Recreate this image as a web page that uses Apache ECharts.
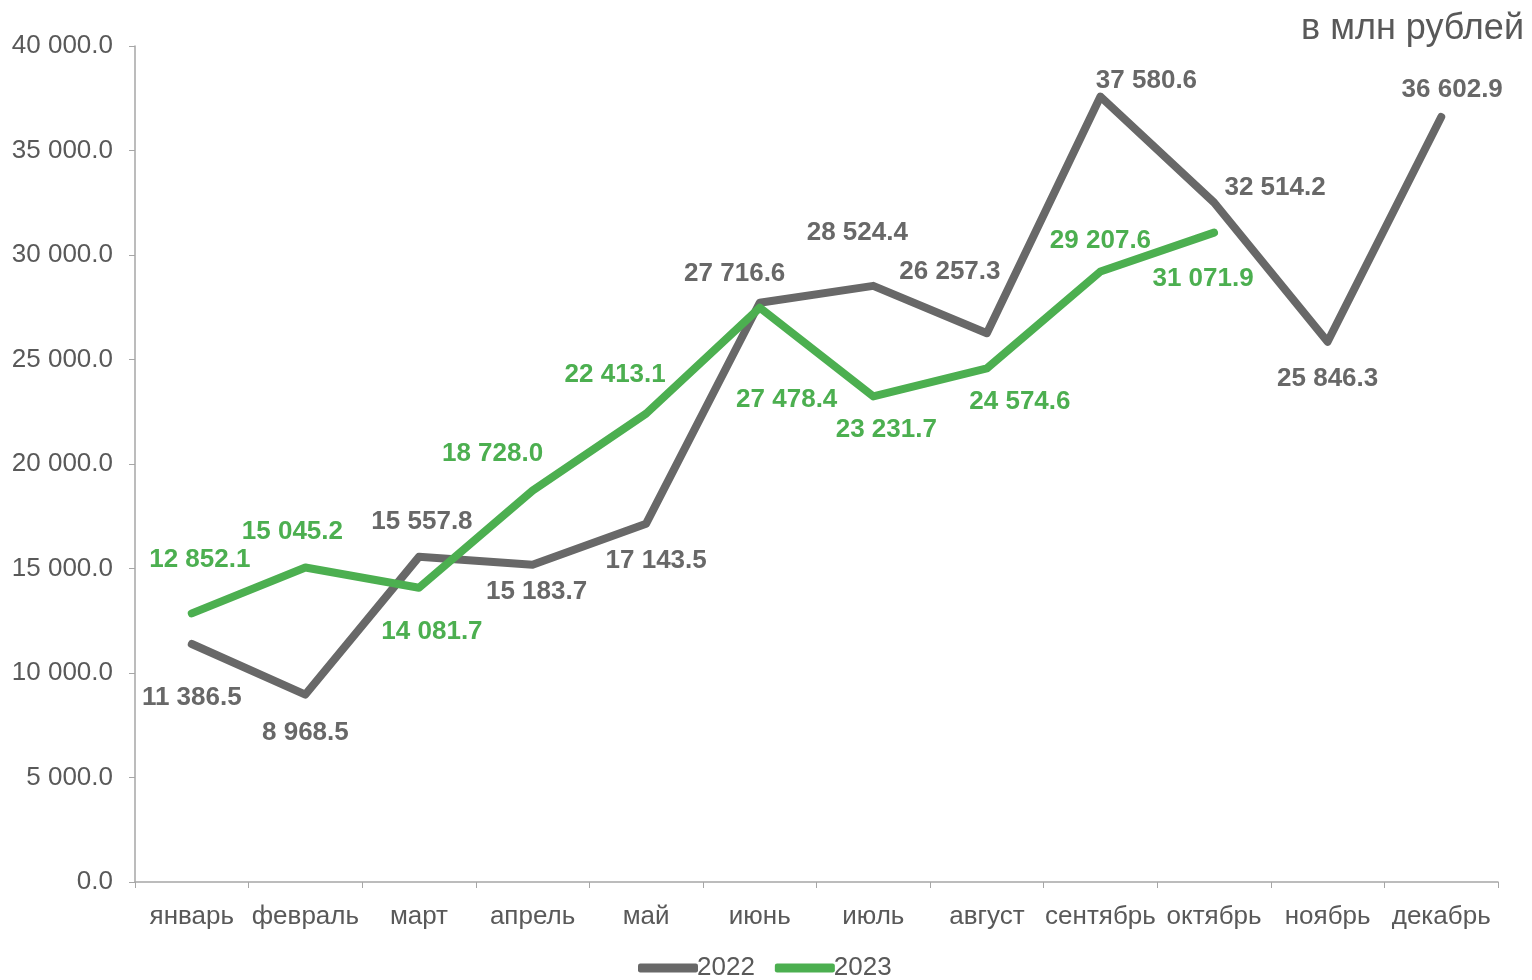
<!DOCTYPE html>
<html>
<head>
<meta charset="utf-8">
<script src="https://cdn.jsdelivr.net/npm/echarts@6/dist/echarts.min.js"></script>
<style>
  html, body { margin: 0; padding: 0; background: #fff; }
  #main { width: 1532px; height: 980px; }
</style>
</head>
<body>
<div id="main"></div>
<script>
var months = ['январь', 'февраль', 'март', 'апрель', 'май', 'июнь', 'июль', 'август', 'сентябрь', 'октябрь', 'ноябрь', 'декабрь'];
var values2022 = [11386.5, 8968.5, 15557.8, 15183.7, 17143.5, 27716.6, 28524.4, 26257.3, 37580.6, 32514.2, 25846.3, 36602.9];
var values2023 = [12852.1, 15045.2, 14081.7, 18728.0, 22413.1, 27478.4, 23231.7, 24574.6, 29207.6, 31071.9];

// label shifts (px) from each point, to place them like the original
var shift2022 = [[0, 54], [0, 38], [3, -35], [4, 27], [10, 37], [-25, -29], [-16, -53], [-37, -61], [46, -16], [61, -15], [0, 37], [11, -27]];
var shift2023 = [[8, -54], [-13, -36], [13, 44], [-40, -37], [-31, -39], [27, 92], [13, 33], [33, 33], [0, -31], [-11, 46]];

var grey = '#686868';
var green = '#4caf50';
var textColor = '#595959';

function fmt(v) {
    var s = v.toFixed(1).split('.');
    return s[0].replace(/\B(?=(\d{3})+(?!\d))/g, ' ') + '.' + s[1];
}

function points(vals, shifts, color) {
    return vals.map(function (v, i) {
        return {
            value: v,
            label: {
                show: true,
                position: 'inside',
                offset: shifts[i],
                color: color,
                fontWeight: 'bold',
                fontSize: 26,
                formatter: function (p) { return fmt(p.value); }
            }
        };
    });
}

var myChart = echarts.init(document.getElementById('main'));
var option = {
    textStyle: { fontFamily: 'Liberation Sans, Arial, sans-serif' },
    animation: false,
    title: {
        text: 'в млн рублей',
        right: 3,
        top: 6,
        textStyle: { color: textColor, fontSize: 36, fontWeight: 'normal' }
    },
    legend: {
        bottom: -6,
        left: 633,
        itemWidth: 60,
        itemHeight: 9,
        itemGap: 20,
        icon: 'roundRect',
        textStyle: { color: textColor, fontSize: 26, padding: [0, 0, 0, -6] },
        data: ['2022', '2023']
    },
    grid: { left: 135, right: 34, top: 46, bottom: 98 },
    xAxis: {
        type: 'category',
        data: months,
        boundaryGap: true,
        axisLine: { lineStyle: { color: '#a6a6a6', width: 1.5 } },
        axisTick: { show: true, length: 6, lineStyle: { color: '#a6a6a6' } },
        axisLabel: { color: textColor, fontSize: 26, margin: 22, interval: 0 }
    },
    yAxis: {
        type: 'value',
        min: 0,
        max: 40000,
        interval: 5000,
        axisLine: { show: true, lineStyle: { color: '#a6a6a6', width: 1.5 } },
        axisTick: { show: true, length: 6, lineStyle: { color: '#a6a6a6' } },
        splitLine: { show: false },
        axisLabel: { color: textColor, fontSize: 26, margin: 22, formatter: function (v) { return fmt(v); } }
    },
    series: [
        {
            name: '2022',
            type: 'line',
            data: points(values2022, shift2022, grey),
            symbol: 'circle',
            symbolSize: 6,
            showSymbol: true,
            itemStyle: { color: grey },
            lineStyle: { color: grey, width: 8, cap: 'round', join: 'round' },
            z: 2
        },
        {
            name: '2023',
            type: 'line',
            data: points(values2023, shift2023, green),
            symbol: 'circle',
            symbolSize: 6,
            showSymbol: true,
            itemStyle: { color: green },
            lineStyle: { color: green, width: 8, cap: 'round', join: 'round' },
            z: 3
        }
    ]
};
myChart.setOption(option);
</script>
</body>
</html>
